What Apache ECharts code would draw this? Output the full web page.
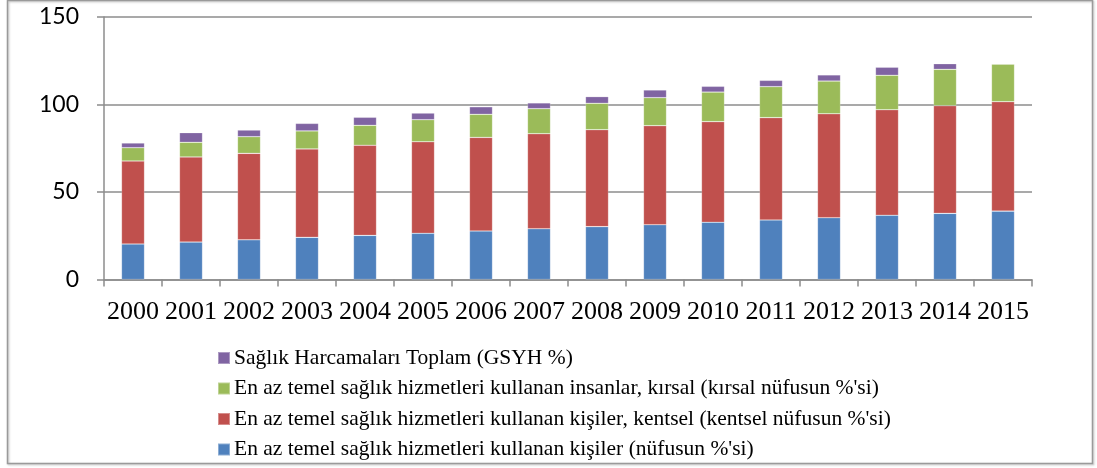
<!DOCTYPE html>
<html>
<head>
<meta charset="utf-8">
<script src="https://cdn.jsdelivr.net/npm/echarts@6/dist/echarts.min.js"></script>
<style>
html,body{margin:0;padding:0;background:#fff;}
#c{width:1097px;height:468px;}
</style>
</head>
<body>
<div id="c"></div>
<script>
const years = ['2000','2001','2002','2003','2004','2005','2006','2007','2008','2009','2010','2011','2012','2013','2014','2015'];
const yTicks = [0, 50, 100, 150];
const nameTotal = 'En az temel sağlık hizmetleri kullanan kişiler (nüfusun %\'si)';
const nameUrban = 'En az temel sağlık hizmetleri kullanan kişiler, kentsel (kentsel nüfusun %\'si)';
const nameRural = 'En az temel sağlık hizmetleri kullanan insanlar, kırsal (kırsal nüfusun %\'si)';
const nameHealth = 'Sağlık Harcamaları Toplam (GSYH %)';
const totalPop = [20.3, 21.4, 22.7, 24.1, 25.2, 26.4, 27.7, 29.0, 30.2, 31.3, 32.7, 34.0, 35.3, 36.7, 37.8, 39.1];
const urbanPop = [47.4, 48.6, 49.4, 50.5, 51.5, 52.3, 53.5, 54.3, 55.4, 56.6, 57.5, 58.5, 59.4, 60.3, 61.5, 62.5];
const ruralPop = [7.6, 8.4, 9.5, 10.3, 11.4, 12.6, 13.2, 14.3, 15.1, 16.0, 16.9, 17.7, 18.7, 19.7, 20.8, 21.5];
const healthExp = [2.7, 5.5, 3.8, 4.3, 4.6, 3.8, 4.3, 3.3, 3.8, 4.4, 3.3, 3.6, 3.5, 4.6, 3.2, 0];

const chart = echarts.init(document.getElementById('c'), null, {renderer: 'canvas'});
const axisGray = '#8c8c8c';
function bar(name, data, color) {
  return {
    name: name, type: 'bar', stack: 'all', data: data, barWidth: 23,
    itemStyle: {color: color, borderColor: 'rgba(255,255,255,0.35)', borderWidth: 0.6},
    emphasis: {disabled: true}
  };
}
chart.setOption({
  animation: false,
  backgroundColor: '#fff',
  grid: {left: 104, right: 65, top: 17, bottom: 188.5, containLabel: false},
  xAxis: {
    type: 'category', data: years,
    axisLine: {lineStyle: {color: axisGray, width: 1.5}},
    axisTick: {show: true, length: 7, alignWithLabel: false, lineStyle: {color: axisGray, width: 1.5}},
    axisLabel: {color: '#000', fontFamily: 'Liberation Serif', fontSize: 26, margin: 20, interval: 0}
  },
  yAxis: {
    type: 'value', min: yTicks[0], max: yTicks[yTicks.length - 1], interval: 50,
    axisLine: {show: true, lineStyle: {color: axisGray, width: 1.5}},
    axisTick: {show: true, length: 7, lineStyle: {color: axisGray, width: 1.5}},
    splitLine: {show: true, lineStyle: {color: axisGray, width: 1.5}},
    axisLabel: {color: '#000', fontFamily: 'Lato', fontSize: 23, margin: 25}
  },
  legend: {
    orient: 'vertical', left: 217, top: 347, padding: 0,
    itemWidth: 12, itemHeight: 12, itemGap: 8.5, icon: 'rect',
    data: [nameHealth, nameRural, nameUrban, nameTotal],
    textStyle: {color: '#000', fontFamily: 'Liberation Serif', fontSize: 21.5, lineHeight: 22, padding: [0, 0, 0, -1]}
  },
  graphic: [{
    type: 'rect', z: 100, silent: true,
    shape: {x: 7.5, y: 0.5, width: 1085, height: 463},
    style: {fill: 'none', stroke: '#9a9a9a', lineWidth: 1.5,
      shadowBlur: 2, shadowOffsetX: 1, shadowOffsetY: 1, shadowColor: 'rgba(0,0,0,0.25)'}
  }],
  series: [
    bar(nameTotal, totalPop, '#4F81BD'),
    bar(nameUrban, urbanPop, '#C0504D'),
    bar(nameRural, ruralPop, '#9BBB59'),
    bar(nameHealth, healthExp, '#8064A2')
  ]
});
</script>
</body>
</html>
